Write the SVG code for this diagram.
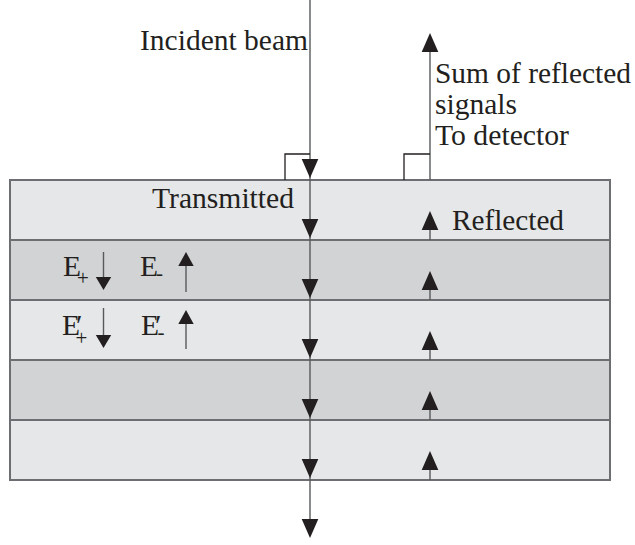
<svg xmlns="http://www.w3.org/2000/svg" xmlns:xlink="http://www.w3.org/1999/xlink" width="635" height="545" viewBox="0 0 635 545">
  <style>
    .lt { fill: #e6e7e8; }
    .dk { fill: #d1d3d4; }
    .bd { stroke: #6d6e71; stroke-width: 2; fill: none; }
    .ln { stroke: #58595b; stroke-width: 1.4; fill: none; }
    .br { stroke: #231f20; stroke-width: 1.3; fill: none; }
    .ah { fill: #231f20; }
    .tx { font-family: "Liberation Serif", "Times New Roman", serif; font-size: 29.5px; fill: #231f20; }
  </style>
  <defs>
    <path id="dn" d="M-8.3,-19 L8.3,-19 L0,0 Z"/>
    <path id="up" d="M-8.3,19 L8.3,19 L0,0 Z"/>
    <path id="sdn" d="M-7.7,-13 L7.7,-13 L0,0 Z"/>
    <path id="sup" d="M-7.7,14 L7.7,14 L0,0 Z"/>
  </defs>

  <g id="layers">
    <g id="layer1"><rect class="lt" x="10" y="180" width="600" height="60"/></g>
    <g id="layer2"><rect class="dk" x="10" y="240" width="600" height="60"/></g>
    <g id="layer3"><rect class="lt" x="10" y="300" width="600" height="60"/></g>
    <g id="layer4"><rect class="dk" x="10" y="360" width="600" height="60"/></g>
    <g id="layer5"><rect class="lt" x="10" y="420" width="600" height="60"/></g>
    <g id="borders">
      <rect class="bd" x="10" y="180" width="600" height="300"/>
      <line class="bd" x1="10" y1="240" x2="610" y2="240"/>
      <line class="bd" x1="10" y1="300" x2="610" y2="300"/>
      <line class="bd" x1="10" y1="360" x2="610" y2="360"/>
      <line class="bd" x1="10" y1="420" x2="610" y2="420"/>
    </g>
  </g>

  <g id="connectors">
    <line class="ln" x1="310" y1="0" x2="310" y2="536"/>
    <use xlink:href="#dn" class="ah" x="310" y="178"/>
    <use xlink:href="#dn" class="ah" x="310" y="238"/>
    <use xlink:href="#dn" class="ah" x="310" y="298"/>
    <use xlink:href="#dn" class="ah" x="310" y="358"/>
    <use xlink:href="#dn" class="ah" x="310" y="418"/>
    <use xlink:href="#dn" class="ah" x="310" y="478"/>
    <use xlink:href="#dn" class="ah" x="310" y="538"/>
    <line class="ln" x1="430" y1="180" x2="430" y2="48"/>
    <use xlink:href="#up" class="ah" x="430" y="33"/>
    <line class="ln" x1="430" y1="240" x2="430" y2="228"/>
    <use xlink:href="#up" class="ah" x="430" y="211"/>
    <line class="ln" x1="430" y1="300" x2="430" y2="288"/>
    <use xlink:href="#up" class="ah" x="430" y="271"/>
    <line class="ln" x1="430" y1="360" x2="430" y2="348"/>
    <use xlink:href="#up" class="ah" x="430" y="331"/>
    <line class="ln" x1="430" y1="420" x2="430" y2="408"/>
    <use xlink:href="#up" class="ah" x="430" y="391"/>
    <line class="ln" x1="430" y1="480" x2="430" y2="468"/>
    <use xlink:href="#up" class="ah" x="430" y="451"/>
    <path class="br" d="M285,180 V154 H310"/>
    <path class="br" d="M404,180 V154 H430"/>
    <line class="ln" x1="103.5" y1="252" x2="103.5" y2="280"/>
    <use xlink:href="#sdn" class="ah" x="103.5" y="290"/>
    <line class="ln" x1="186" y1="292" x2="186" y2="262"/>
    <use xlink:href="#sup" class="ah" x="186" y="252"/>
    <line class="ln" x1="103.5" y1="308" x2="103.5" y2="338"/>
    <use xlink:href="#sdn" class="ah" x="103.5" y="348"/>
    <line class="ln" x1="186" y1="349" x2="186" y2="320"/>
    <use xlink:href="#sup" class="ah" x="186" y="310"/>
  </g>

  <g id="labels">
    <text class="tx" x="140" y="50" textLength="168" lengthAdjust="spacingAndGlyphs">Incident beam</text>
    <text class="tx" x="435" y="83" textLength="196" lengthAdjust="spacingAndGlyphs">Sum of reflected</text>
    <text class="tx" x="435" y="114" textLength="82" lengthAdjust="spacingAndGlyphs">signals</text>
    <text class="tx" x="435" y="145" textLength="134" lengthAdjust="spacingAndGlyphs">To detector</text>
    <text class="tx" x="152" y="208" textLength="142" lengthAdjust="spacingAndGlyphs">Transmitted</text>
    <text class="tx" x="452" y="230" textLength="112" lengthAdjust="spacingAndGlyphs">Reflected</text>
    <text id="e-plus" class="tx" x="63" y="276">E<tspan dx="-4" dy="9" font-size="21">+</tspan></text>
    <text id="e-minus" class="tx" x="140" y="276">E<tspan dx="-2" dy="4" font-size="21">-</tspan></text>
    <text id="e-prime-plus" class="tx" x="62" y="335">E<tspan dx="-4">′</tspan><tspan dx="-7" dy="10" font-size="21">+</tspan></text>
    <text id="e-prime-minus" class="tx" x="141" y="335">E<tspan dx="-4">′</tspan><tspan dx="-4" dy="4" font-size="21">-</tspan></text>
  </g>
</svg>
